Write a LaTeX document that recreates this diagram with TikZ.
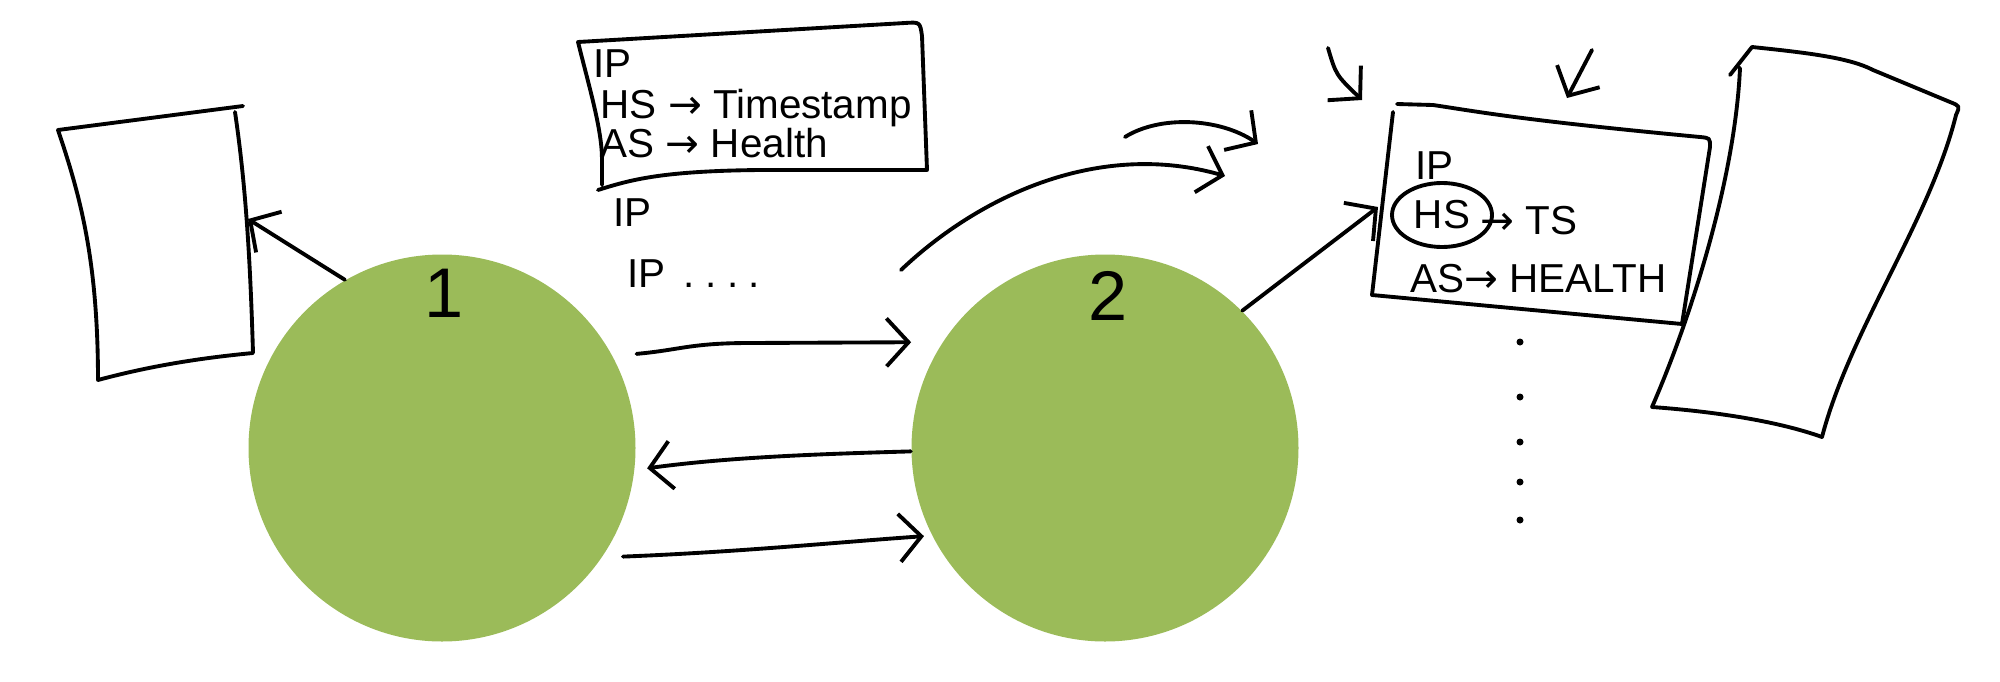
\documentclass[tikz,border=0pt]{standalone}
\usepackage{fontspec}
\setmainfont{Liberation Sans}
\newfontfamily\arrfont{DejaVu Sans}
\usetikzlibrary{arrows.meta,shapes.geometric,calc}
\definecolor{nodegreen}{RGB}{155,187,89}
\begin{document}
\begin{tikzpicture}[
  hand/.style={line width=1.1pt, line cap=round, line join=round},
  arr/.style={hand, -{Straight Barb[length=2.2mm,width=4.8mm]}},
  circ/.style={circle, fill=nodegreen, minimum size=3.87cm, inner sep=0pt},
  txt/.style={anchor=west, inner sep=0pt, font=\fontsize{11.5}{13}\selectfont, text height=8.2pt, text depth=0pt},
  digit/.style={inner sep=0pt, font=\fontsize{20}{22}\selectfont},
  hsoval/.style={draw, ellipse, line width=1.1pt, minimum width=1.0cm, minimum height=0.64cm, inner sep=0pt, font=\fontsize{11.5}{13}\selectfont}
]
\useasboundingbox (0,0) rectangle (20,-6.81);

% circles
\node[circ] (c1) at (4.42,-4.48) {};
\node[circ] (c2) at (11.05,-4.48) {};
\node[digit] (n1) at (4.44,-2.93) {1};
\node[digit] (n2) at (11.08,-2.96) {2};

% left box
\draw[hand] (2.43,-1.06) -- (0.58,-1.30)
  .. controls (0.80,-1.95) and (0.98,-2.60) .. (0.98,-3.80)
  .. controls (1.50,-3.66) and (2.00,-3.58) .. (2.53,-3.53)
  .. controls (2.50,-2.50) and (2.45,-1.80) .. (2.35,-1.12);

% top text box
\draw[hand] (5.98,-1.90) .. controls (6.30,-1.80) and (6.60,-1.71) .. (7.60,-1.70)
  -- (9.27,-1.70) -- (9.22,-0.36) .. controls (9.20,-0.22) .. (9.05,-0.23)
  -- (5.78,-0.42) .. controls (5.90,-0.90) and (6.02,-1.30) .. (6.02,-1.60) -- (6.02,-1.85);
\node[txt] (tip) at (5.93,-0.63) {IP};
\node[txt] (ths) at (6.00,-1.04) {HS {\arrfont →} Timestamp};
\node[txt] (tas) at (6.00,-1.43) {AS {\arrfont →} Health};
\node[txt] (ip1) at (6.13,-2.12) {IP};
\node[txt] (ip2) at (6.27,-2.73) {IP\hspace{5pt}.\hspace{3pt}.\hspace{3pt}.\hspace{3pt}.};

% middle box
\draw[hand] (13.97,-1.04) -- (14.33,-1.05) .. controls (14.80,-1.12) and (15.20,-1.20) .. (17.00,-1.37)
  .. controls (17.10,-1.38) .. (17.10,-1.47) -- (16.82,-3.24) -- (13.72,-2.95) -- (13.93,-1.12);
\node[txt] (mip) at (14.15,-1.65) {IP};
\node[hsoval] (mhs) at (14.42,-2.15) {HS};
\node[txt] (mts) at (14.80,-2.20) {{\arrfont →} TS};
\node[txt] (mas) at (14.10,-2.78) {AS{\arrfont →} HEALTH};

% tall box
\draw[hand] (17.30,-0.75) -- (17.52,-0.47)
  .. controls (18.10,-0.53) and (18.50,-0.58) .. (18.73,-0.70)
  -- (19.50,-1.02)
  .. controls (19.60,-1.06) .. (19.56,-1.15)
  .. controls (19.30,-2.20) and (18.50,-3.30) .. (18.22,-4.37)
  .. controls (17.80,-4.22) and (17.20,-4.12) .. (16.52,-4.07)
  .. controls (16.90,-3.20) and (17.35,-1.80) .. (17.40,-0.68);

% dots
\foreach \yy in {3.42,3.97,4.42,4.82,5.20} \fill (15.20,-\yy) circle (0.035);

% free ends
\coordinate (lbtip) at (2.48,-2.19);
\coordinate (cs) at (9.01,-2.70);
\coordinate (ce) at (12.25,-1.76);
\coordinate (us) at (11.25,-1.37);
\coordinate (ue) at (12.58,-1.44);
\coordinate (mbtip) at (13.78,-2.07);
\coordinate (k1s) at (13.28,-0.48);
\coordinate (k1e) at (13.62,-1.00);
\coordinate (k2s) at (15.92,-0.50);
\coordinate (k2e) at (15.67,-0.98);

% connectors
\draw[arr] (c1.120) -- (lbtip);
\draw[arr] ([shift={(0.20,0.09)}]c1.26) .. controls (6.80,-3.50) and (6.90,-3.43) .. (7.50,-3.43) -- ([shift={(-0.31,0)}]c2.147);
\draw[arr] (c2.181) .. controls (8.20,-4.54) and (7.30,-4.57) .. ([shift={(0.12,0)}]c1.-6);
\draw[arr] ([shift={(0.20,0)}]c1.-34) .. controls (7.40,-5.52) and (8.40,-5.42) .. ([shift={(-0.08,0)}]c2.207);
\draw[arr] (cs) .. controls (9.80,-1.95) and (11.00,-1.40) .. (ce);
\draw[arr] (us) .. controls (11.60,-1.15) and (12.20,-1.18) .. (ue);
\draw[arr] (c2.45) -- (mbtip);
\draw[arr] (k1s) .. controls (13.36,-0.75) .. (k1e);
\draw[arr] (k2s) -- (k2e);
\end{tikzpicture}
\end{document}
